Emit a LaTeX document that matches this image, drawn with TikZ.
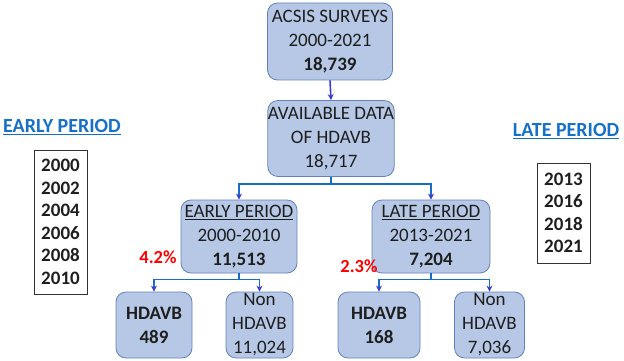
\documentclass[tikz,border=0pt]{standalone}
\usepackage{fontspec}
\setmainfont{Carlito}
\usetikzlibrary{arrows.meta}
\definecolor{boxfill}{RGB}{182,200,230}
\definecolor{boxdraw}{RGB}{100,130,185}
\definecolor{lineblue}{RGB}{20,110,200}
\definecolor{tipblue}{RGB}{60,60,210}
\definecolor{headblue}{RGB}{20,112,200}
\definecolor{txt}{RGB}{30,30,30}
\begin{document}
\begin{tikzpicture}[x=1pt,y=-1pt,
  box/.style={draw=boxdraw,fill=boxfill,rounded corners=10pt,line width=0.8pt,
    align=center,inner sep=0pt,text=txt,font=\fontsize{19}{24}\selectfont},
  yearbox/.style={draw=black!80,line width=0.8pt,align=center,inner sep=0pt,
    text=txt,font=\fontsize{19}{22.5}\selectfont\bfseries},
  conn/.style={draw=lineblue,line width=1.6pt,-{Stealth[length=6pt,width=6pt,color=tipblue]}},
  head/.style={text=headblue,font=\fontsize{20}{22}\selectfont\bfseries},
  pct/.style={text=red,font=\fontsize{18.5}{20}\selectfont\bfseries}]
\useasboundingbox (0,0) rectangle (624,361);

\node[box,minimum width=125pt,minimum height=77pt] (top) at (330,41.5)
  {ACSIS SURVEYS\\2000-2021\\\textbf{18,739}};
\node[box,minimum width=126pt,minimum height=76pt] (data) at (331,138.5)
  {AVAILABLE DATA\\OF HDAVB\\18,717};
\node[box,minimum width=116pt,minimum height=73pt] (early) at (239,236.5)
  {\underline{EARLY PERIOD}\\2000-2010\\\textbf{11,513}};
\node[box,minimum width=118pt,minimum height=73pt] (late) at (431,236.5)
  {\underline{LATE PERIOD}\\2013-2021\\\textbf{7,204}};
\node[box,minimum width=76pt,minimum height=66pt] (h1) at (154,325)
  {\textbf{HDAVB}\\\textbf{489}};
\node[box,minimum width=67pt,minimum height=66pt] (n1) at (259.5,325)
  {Non\\HDAVB\\11,024};
\node[box,minimum width=82pt,minimum height=66pt] (h2) at (379,325)
  {\textbf{HDAVB}\\\textbf{168}};
\node[box,minimum width=70pt,minimum height=66pt] (n2) at (489.5,325)
  {Non\\HDAVB\\7,036};

\draw[draw=tipblue,line width=1.6pt,-{Stealth[length=6pt,width=6pt,color=tipblue]}] (top.south) -- (data.north);
\coordinate (j0) at ([yshift=-7pt]data.south);
\draw[conn] (data.south) -- (j0) -| (early.north);
\draw[conn] (j0) -| (late.north);
\coordinate (j1) at ([yshift=-6pt]early.south);
\draw[conn] (early.south) -- (j1) -| (h1.north);
\draw[conn] (j1) -| (n1.north);
\coordinate (j2) at ([yshift=-6pt]late.south);
\draw[conn] (late.south) -- (j2) -| (h2.north);
\draw[conn] (j2) -| (n2.north);

\node[pct] (p1) at (158,257) {4.2\%};
\node[pct] (p2) at (359,266) {2.3\%};

\node[head] (eh) at (62,127) {\underline{EARLY PERIOD}};
\node[yearbox,minimum width=53pt,minimum height=144pt] (ey) at (60.5,222)
  {2000\\2002\\2004\\2006\\2008\\2010};
\node[head] (lh) at (566,131) {\underline{LATE PERIOD}};
\node[yearbox,minimum width=53pt,minimum height=100pt] (ly) at (563.5,213)
  {2013\\2016\\2018\\2021};
\end{tikzpicture}
\end{document}
